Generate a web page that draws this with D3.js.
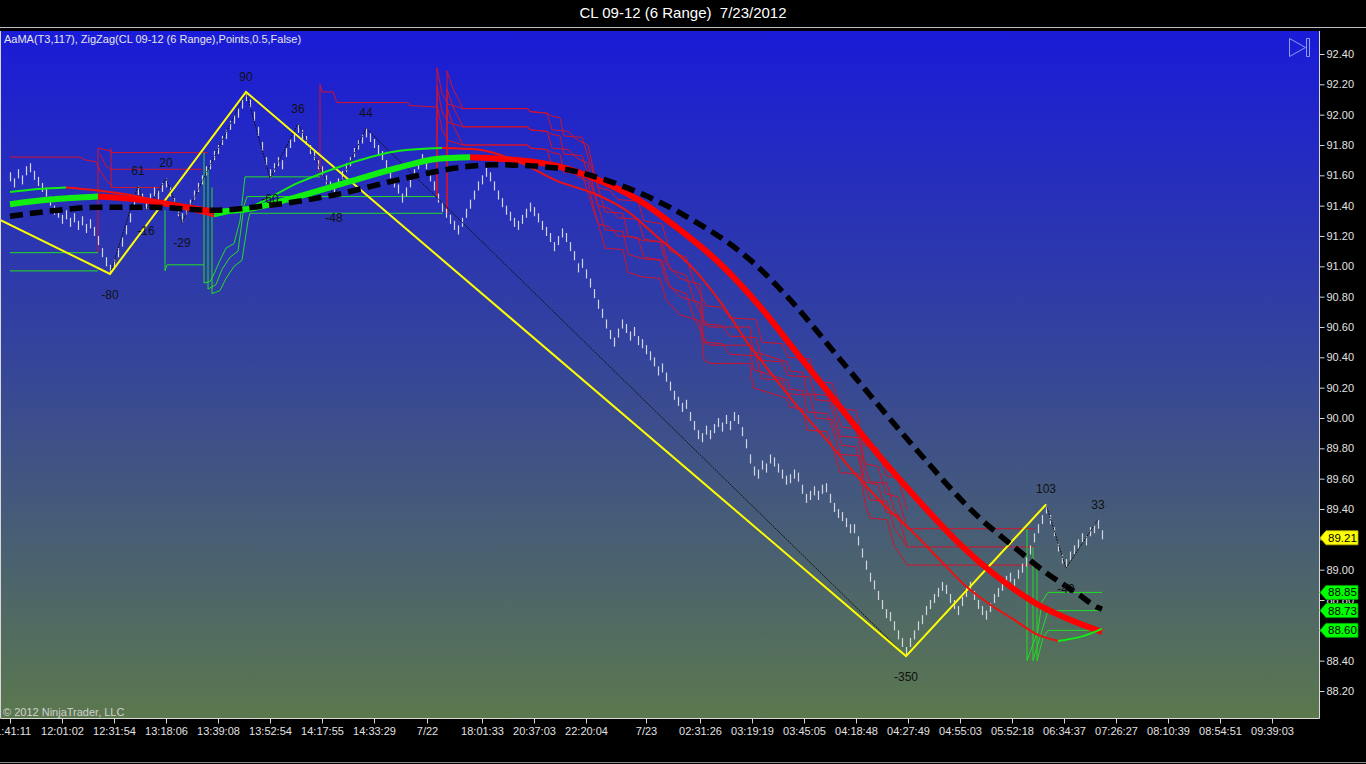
<!DOCTYPE html>
<meta charset="utf-8">
<style>
body{ margin:0; background:#000; }
svg{ display:block; font-family: Arial, "Liberation Sans", Helvetica, sans-serif; }
</style>
<svg id="chart" width="1366" height="764"></svg>
<script src="https://cdn.jsdelivr.net/npm/d3@7"></script>
<script>

// ---- data ----
// range bars (6 ticks), one high per bar, low = high - range
var BAR_RANGE = 0.06
var barHigh = [
  91.62, 91.58, 91.64, 91.60, 91.66, 91.68, 91.63, 91.59, 91.55,
  91.52, 91.46, 91.40, 91.38, 91.34, 91.37, 91.32, 91.35, 91.30, 91.33, 91.28, 91.31, 91.26,
  91.20, 91.12, 91.06, 91.01,
  91.05, 91.12, 91.19, 91.27, 91.35, 91.44, 91.53,
  91.48, 91.43,
  91.48, 91.52, 91.50, 91.55, 91.58,
  91.52, 91.45, 91.39, 91.35,
  91.40, 91.44, 91.50, 91.55, 91.60, 91.66, 91.70, 91.76, 91.80, 91.86, 91.90, 91.96, 92.00, 92.04, 92.10, 92.15,
  92.10, 92.02, 91.92, 91.82, 91.72, 91.64,
  91.68, 91.72, 91.70, 91.78, 91.84, 91.88, 91.94,
  91.90, 91.86, 91.80, 91.76, 91.70, 91.66, 91.60, 91.56, 91.52,
  91.58, 91.63, 91.68, 91.72, 91.78, 91.83, 91.87, 91.91,
  91.88, 91.84, 91.80, 91.76, 91.70, 91.64, 91.58, 91.54, 91.48, 91.52, 91.58, 91.64,
  91.70, 91.74, 91.70, 91.62, 91.56, 91.48, 91.42, 91.38, 91.34, 91.30, 91.27,
  91.32, 91.38, 91.44, 91.50, 91.56, 91.60, 91.65, 91.62, 91.56, 91.50, 91.45, 91.40,
  91.36, 91.32, 91.30, 91.34, 91.38, 91.42, 91.39, 91.35, 91.30, 91.26, 91.22, 91.16,
  91.20, 91.25, 91.22, 91.16, 91.10,
  91.02, 91.05, 90.98, 90.92, 90.85, 90.78, 90.72, 90.65, 90.58, 90.53, 90.59, 90.65,
  90.62, 90.57, 90.60, 90.54, 90.52, 90.48,
  90.44, 90.40, 90.34, 90.36, 90.30, 90.24, 90.18, 90.14, 90.10, 90.12, 90.04, 89.98,
  89.92, 89.90, 89.95, 89.92, 89.96, 90.00, 89.97, 90.02, 89.98, 90.04, 90.02,
  89.94, 89.86, 89.76, 89.68, 89.66, 89.72, 89.70, 89.76, 89.74, 89.70, 89.66, 89.62,
  89.63, 89.66, 89.64, 89.56, 89.50, 89.52, 89.55, 89.52, 89.56, 89.57, 89.50, 89.44,
  89.40, 89.38, 89.34, 89.30, 89.30, 89.22, 89.14, 89.06, 88.98, 88.93, 88.86, 88.80,
  88.74, 88.72, 88.66, 88.60, 88.55, 88.49,
  88.55, 88.60, 88.66, 88.70, 88.76, 88.80, 88.84, 88.88, 88.92, 88.90, 88.84, 88.80,
  88.76, 88.82, 88.88, 88.92, 88.86, 88.80, 88.76, 88.73, 88.78, 88.84, 88.88, 88.92,
  88.96, 88.98, 88.94, 89.00, 89.04, 89.08, 89.16, 89.24, 89.30, 89.36, 89.43,
  89.36, 89.28, 89.18, 89.10, 89.07, 89.12, 89.16, 89.20, 89.24, 89.22, 89.28, 89.30,
  89.33, 89.26
]

// AaMA(T3,117) - [bar index, price]
var thickMA = [[0,91.41],[10,91.44],[22,91.46],[32,91.44],[42,91.40],[51,91.36],[60,91.38],
  [72,91.46],[85,91.56],[97,91.65],[107,91.71],[115,91.72],[127,91.70],[137,91.66],[147,91.57],
  [157,91.44],[167,91.25],[177,91.03],[187,90.75],[197,90.42],[207,90.09],[217,89.76],
  [227,89.46],[237,89.18],[247,88.95],[257,88.77],[265,88.67],[273,88.59]]

var thinMA = [[0,91.49],[7,91.51],[14,91.52],[22,91.50],[32,91.46],[42,91.39],[51,91.33],
  [60,91.39],[72,91.55],[85,91.68],[97,91.76],[108,91.78],[117,91.77],[127,91.69],[137,91.56],
  [146,91.48],[154,91.37],[162,91.19],[171,90.98],[178,90.75],[184,90.51],[191,90.27],
  [198,90.04],[205,89.83],[211,89.64],[218,89.44],[226,89.24],[233,89.05],[239,88.89],
  [245,88.77],[251,88.67],[257,88.57],[262,88.53],[268,88.56],[273,88.61]]

var slowMA = [[0,91.33],[12,91.37],[22,91.39],[35,91.39],[51,91.37],[64,91.40],[81,91.47],
  [97,91.57],[112,91.65],[121,91.67],[136,91.65],[152,91.54],[169,91.33],[186,91.02],
  [195,90.78],[209,90.34],[226,89.81],[242,89.35],[251,89.15],[259,88.98],[267,88.84],
  [272,88.75],[273,88.74]]

// ZigZag swing points
var zzIdx   = [-12, 25, 32, 34, 39, 43, 59, 65, 72, 81, 89, 224, 259, 264, 272]
var zzPrice = [91.43, 90.95, 91.53, 91.37, 91.58, 91.29, 92.15, 91.58, 91.94, 91.46, 91.91, 88.43, 89.43, 89.01, 89.33]
var zzText  = ["", "-80", "61", "-16", "20", "-29", "90", "-60", "36", "-48", "44", "-350", "103", "-43", "33"]

// larger swings (yellow)
var bigIdx   = [-12, 25, 59, 224, 259]
var bigPrice = [91.43, 90.95, 92.15, 88.43, 89.43]

// stop steps - [bar index, price]
var redSteps = [
  [[0,91.72],[17.5,91.72],[19,91.70],[21.5,91.69],[22.5,91.63],[24,91.57],[25.5,91.53]],
  [[22,91.09],[22,91.78],[25.25,91.76],[25.25,91.75],[49.5,91.75]],
  [[22.5,91.74],[24,91.66],[25.25,91.64],[48,91.64]],
  [[25.25,91.78],[25.25,91.52],[38,91.52]],
  [[77.5,91.59],[77.5,92.20],[78,92.15],[80.75,92.15],[81.75,92.08],[99.5,92.08],[100,92.06],[106.75,92.05]]
]
var redBands = [
  [[106.75,91.46],[106.75,92.31],[108,92.14],[109.5,92.07],[113.25,92.04],[129.5,92.04],[130,92.02],
   [134.25,92.01],[135.5,91.99],[137.5,91.98],[138.5,91.86],[143,91.85],[145,91.68],[147,91.52],
   [150,91.50],[152,91.44],[157,91.43],[158.5,91.30],[163,91.28],[165,91.10],[169,91.06],[171,90.90],
   [174,90.74],[178,90.73],[180,90.66],[186.5,90.65],[188,90.50],[193,90.49],[194.5,90.40],[200,90.39],
   [201.5,90.24],[205.5,90.23],[208,90.06],[211.5,90.05],[213.5,89.82],[217,89.80],[219,89.62],
   [222,89.60],[224.25,89.40]],
  [[109.25,91.35],[109.25,92.29],[110.75,92.17],[112.5,92.08],[113.25,92.04],[129.5,92.04],[130,92.02],
   [134.25,92.01],[135.5,91.90],[139.5,91.89],[142,91.83],[144.5,91.80],[146,91.62],[148.75,91.36],
   [153.25,91.35],[154.5,91.20],[158.25,91.17],[162.5,91.16],[164,91.02],[167.5,90.92],[172.5,90.88],
   [173.5,90.62],[175,90.60],[185,90.60],[185.75,90.44],[194.25,90.37],[195,90.31],[198.25,90.30],
   [199.25,90.16],[204.25,90.15],[206,90.02],[207.5,89.88],[212.5,89.87],[214,89.65],[215,89.58],
   [219.25,89.57],[221,89.40],[224.25,89.27],[256.25,89.27]]
]
var bandOffsets = [0, 0.12, 0.24]
var greenSteps = [
  [[0,91.09],[22,91.09]],
  [[0,90.97],[22,90.97]],
  [[38.75,91.37],[38.75,90.97],[39.25,91.01],[48.5,91.01]],
  [[48.5,91.75],[48.5,90.89],[50,90.90],[51,90.95],[52.5,91.04],[54,91.12],[56,91.15],[57.5,91.30],[58.75,91.59],[77.5,91.59]],
  [[49.5,91.64],[49.5,90.85],[51.5,90.88],[53,90.98],[55,91.06],[57,91.10],[58.5,91.40],[59.25,91.46],[106.25,91.46]],
  [[50.5,91.52],[50.5,90.82],[52.5,90.84],[54,90.92],[56,91.00],[58,91.04],[59.5,91.30],[60,91.35],[108.25,91.35]],
  [[254.25,89.27],[254.25,88.40],[257,88.60],[258,88.79],[259.5,88.85],[273,88.85]],
  [[255.75,89.15],[255.75,88.40],[258.25,88.62],[259.5,88.73],[273,88.73]],
  [[256.75,89.03],[256.75,88.40],[258.25,88.55],[259.5,88.60],[273,88.60]]
]

var priceTicks = [92.40, 92.20, 92.00, 91.80, 91.60, 91.40, 91.20, 91.00, 90.80, 90.60, 90.40,
  90.20, 90.00, 89.80, 89.60, 89.40, 89.20, 89.00, 88.80, 88.60, 88.40, 88.20]
var timeTickIdx = [0, 13, 26, 39, 52, 65, 78, 91, 104.25, 118, 131, 144, 159, 172.5, 185.5, 198.5,
  211.5, 224.5, 237.5, 250.5, 263.5, 276.5, 289.5, 302.5, 315.5]
var timeTickLabels = ["11:41:11", "12:01:02", "12:31:54", "13:18:06", "13:39:08", "13:52:54",
  "14:17:55", "14:33:29", "7/22", "18:01:33", "20:37:03", "22:20:04", "7/23", "02:31:26",
  "03:19:19", "03:45:05", "04:18:48", "04:27:49", "04:55:03", "05:52:18", "06:34:37",
  "07:26:27", "08:10:39", "08:54:51", "09:39:03"]

var tagValues = [89.21, 88.85, 88.73, 88.60]
var tagKind = ["price", "stop", "stop", "stop"]

// ---- layout ----
var plot = {left: 1, top: 31, right: 1319, bottom: 718}

var svg = d3.select('#chart')

var x = d3.scaleLinear().domain([-2.25, 327.25]).range([plot.left, plot.right])
var y = d3.scaleLinear().domain([88.20, 92.40]).range([691, 54])

var defs = svg.append('defs')
var grad = defs.append('linearGradient')
    .attr('id', 'bg')
    .attr('gradientUnits', 'userSpaceOnUse')
    .attr('x1', 0).attr('y1', plot.top).attr('x2', 0).attr('y2', plot.bottom)
grad.append('stop').attr('offset', '0%').attr('stop-color', '#1a1bd8')
grad.append('stop').attr('offset', '45%').attr('stop-color', '#33429e')
grad.append('stop').attr('offset', '100%').attr('stop-color', '#5b784e')

defs.append('clipPath').attr('id', 'clip')
  .append('rect')
    .attr('x', plot.left).attr('y', plot.top)
    .attr('width', plot.right - plot.left).attr('height', plot.bottom - plot.top)

// title bar
svg.append('text')
    .attr('x', 683).attr('y', 18)
    .attr('text-anchor', 'middle')
    .style('white-space', 'pre')
    .style('font-size', '15px')
    .style('fill', '#fff')
    .text('CL 09-12 (6 Range)  7/23/2012')

svg.append('line')
    .attr('x1', 0).attr('x2', 1366).attr('y1', 27.5).attr('y2', 27.5)
    .style('stroke', '#bdbdbd')

svg.append('rect')
    .attr('x', plot.left).attr('y', plot.top)
    .attr('width', plot.right - plot.left).attr('height', plot.bottom - plot.top)
    .style('fill', 'url(#bg)')

var g = svg.append('g').attr('clip-path', 'url(#clip)')

var line = d3.line().x(function(d){ return x(d[0]) }).y(function(d){ return y(d[1]) })
var smooth = d3.line().x(function(d){ return x(d[0]) }).y(function(d){ return y(d[1]) })
    .curve(d3.curveMonotoneX)

// stop steps
redSteps.forEach(function(s){
  g.append('path').attr('d', line(s))
    .style('fill', 'none').style('stroke', '#d3122c').style('stroke-width', 1)
})
redBands.forEach(function(b){
  bandOffsets.forEach(function(o){
    var pts = b.map(function(d, k){ return k === 0 ? d : [d[0], d[1] - o] })
    g.append('path').attr('d', line(pts))
      .style('fill', 'none').style('stroke', '#d3122c').style('stroke-width', 1)
  })
})
greenSteps.forEach(function(s){
  g.append('path').attr('d', line(s))
    .style('fill', 'none').style('stroke', '#22dd22').style('stroke-width', 1)
})

// range bars
g.selectAll('line.bar')
    .data(barHigh)
  .enter().append('line')
    .attr('class', 'bar')
    .attr('x1', function(d, i){ return Math.round(x(i)) + 0.5 })
    .attr('x2', function(d, i){ return Math.round(x(i)) + 0.5 })
    .attr('y1', function(d){ return y(d) })
    .attr('y2', function(d){ return y(d - BAR_RANGE) })
    .style('stroke', '#d2d6e2')
    .style('stroke-width', 1.2)

// zigzag lines
var zz = zzIdx.map(function(d, k){ return [d, zzPrice[k]] })
var big = bigIdx.map(function(d, k){ return [d, bigPrice[k]] })

g.append('path').attr('d', line(zz))
    .style('fill', 'none').style('stroke', '#111')
    .style('stroke-width', 1).style('stroke-dasharray', '2,1')

g.append('path').attr('d', line(big))
    .style('fill', 'none').style('stroke', '#ffff00').style('stroke-width', 2)

// split a series into rising / falling runs
function runs(pts){
  var out = [], cur = [pts[0]], dir = null
  for (var k = 1; k < pts.length; k++){
    var d = pts[k][1] >= pts[k-1][1] ? 1 : -1
    if (dir !== null && d !== dir){ out.push({dir: dir, pts: cur}); cur = [pts[k-1]] }
    dir = d
    cur.push(pts[k])
  }
  out.push({dir: dir, pts: cur})
  return out
}

runs(thickMA).forEach(function(r){
  g.append('path').attr('d', smooth(r.pts))
    .style('fill', 'none')
    .style('stroke', r.dir > 0 ? '#11ee11' : '#ff0000')
    .style('stroke-width', 6)
})

runs(thinMA).forEach(function(r){
  g.append('path').attr('d', smooth(r.pts))
    .style('fill', 'none')
    .style('stroke', r.dir > 0 ? '#11ee11' : '#f01010')
    .style('stroke-width', 2)
})

g.append('path').attr('d', smooth(slowMA))
    .style('fill', 'none').style('stroke', '#000')
    .style('stroke-width', 5.5).style('stroke-dasharray', '13,7')

// swing labels
var swings = zz.map(function(d, k){ return [d[0], d[1], zzText[k]] })
    .filter(function(d){ return d[2] !== '' })

g.selectAll('text.zz')
    .data(swings)
  .enter().append('text')
    .attr('class', 'zz')
    .attr('x', function(d){ return x(d[0]) })
    .attr('y', function(d){ return d[2].charAt(0) === '-' ? y(d[1]) + 25 : y(d[1]) - 11 })
    .attr('text-anchor', 'middle')
    .style('font-size', '12px')
    .style('fill', '#111')
    .text(function(d){ return d[2] })

// plot texts
svg.append('text')
    .attr('x', 4).attr('y', 43)
    .style('font-size', '11px').style('fill', '#e4e4e4')
    .text('AaMA(T3,117), ZigZag(CL 09-12 (6 Range),Points,0.5,False)')

svg.append('text')
    .attr('x', 3).attr('y', 716)
    .style('font-size', '11px').style('fill', '#d0d0d0')
    .text('\u00a9 2012 NinjaTrader, LLC')

// scroll icon
svg.append('path')
    .attr('d', 'M1289.5,38.5 L1305.5,47.5 L1289.5,56.5 Z M1306.5,38.5 h3 v18 h-3 Z')
    .style('fill', 'none').style('stroke', '#8c9cf0').style('stroke-width', 1)

// frame
svg.append('path')
    .attr('d', 'M' + (plot.left - 0.5) + ',' + plot.top + ' V' + (plot.bottom + 0.5) +
               ' H' + (plot.right + 0.5) + ' V' + plot.top)
    .style('fill', 'none').style('stroke', '#d8d8d8')

svg.append('line')
    .attr('x1', 0).attr('x2', 1366).attr('y1', 762.5).attr('y2', 762.5)
    .style('stroke', '#8a8a8a')

// axes
var yAxis = d3.axisRight(y)
    .tickValues(priceTicks)
    .tickFormat(d3.format('.2f'))
    .tickSize(5)
    .tickPadding(2)

var ya = svg.append('g')
    .attr('transform', 'translate(' + (plot.right + 0.5) + ',0)')
    .call(yAxis)
ya.select('.domain').remove()
ya.selectAll('line').style('stroke', '#d8d8d8')
ya.selectAll('text').style('fill', '#e2e2e2').style('font-size', '11px')
    .style('font-family', 'Arial, "Liberation Sans", sans-serif')
// labels that sit fully under a value tag are not shown
ya.selectAll('.tick')
    .filter(function(d){ return tagValues.some(function(t){ return Math.abs(t - d) < 0.02 }) })
    .select('text').remove()

var xAxis = d3.axisBottom(x)
    .tickValues(timeTickIdx)
    .tickFormat(function(d, k){ return timeTickLabels[k] })
    .tickSize(5)
    .tickPadding(4)

var xa = svg.append('g')
    .attr('transform', 'translate(0,' + (plot.bottom + 0.5) + ')')
    .call(xAxis)
xa.select('.domain').remove()
xa.selectAll('line').style('stroke', '#d8d8d8')
xa.selectAll('text').style('fill', '#e2e2e2').style('font-size', '11px')
    .style('font-family', 'Arial, "Liberation Sans", sans-serif')

// last value tags
var tags = svg.selectAll('g.tag')
    .data(tagValues)
  .enter().append('g')
    .attr('class', 'tag')
    .attr('transform', function(d){ return 'translate(' + (plot.right + 1) + ',' + y(d) + ')' })

tags.append('path')
    .attr('d', 'M0,0 L6,-7 H38 V7 H6 Z')
    .style('fill', function(d, k){ return tagKind[k] === 'price' ? '#ffff00' : '#00ff00' })
    .style('stroke', function(d, k){ return tagKind[k] === 'price' ? '#b8b800' : '#00a000' })
    .style('stroke-width', 0.8)

tags.append('text')
    .attr('x', 8).attr('y', 4)
    .style('font-size', '11.5px').style('fill', '#000')
    .text(function(d){ return d3.format('.2f')(d) })

</script>
